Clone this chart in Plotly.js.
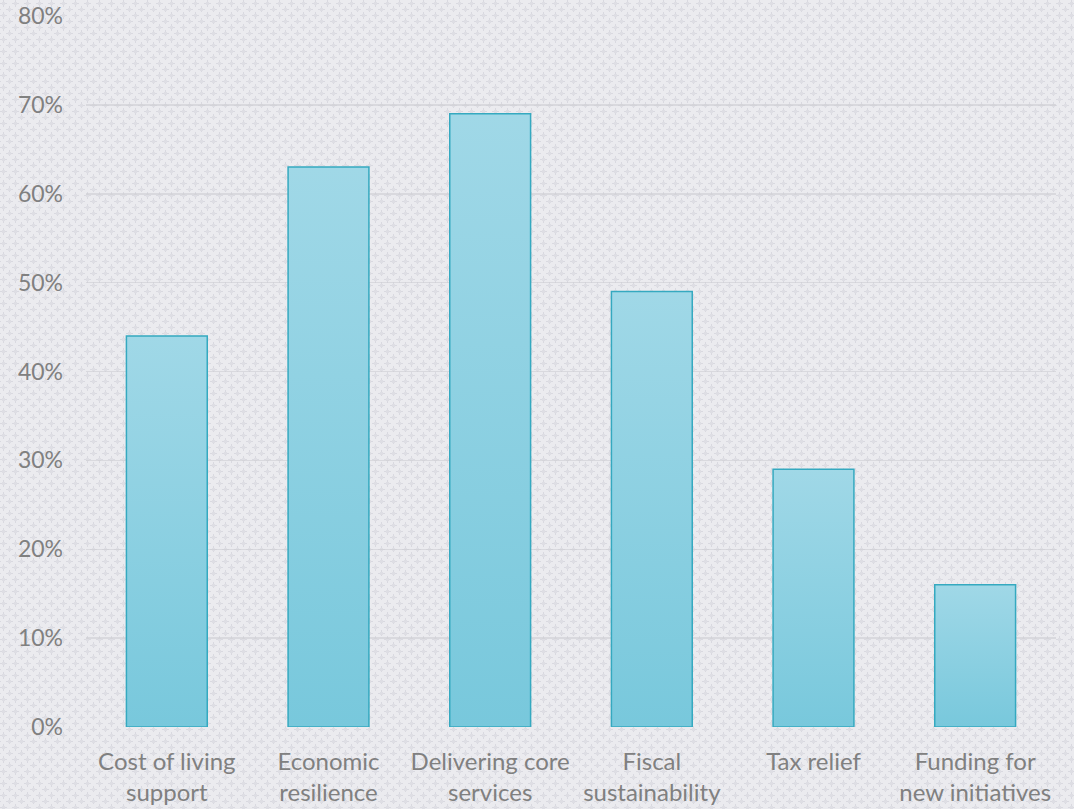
<!DOCTYPE html>
<html><head><meta charset="utf-8">
<script src="https://cdn.plot.ly/plotly-3.0.1.min.js"></script>
<style>
html,body{margin:0;padding:0;width:1074px;height:809px;overflow:hidden;}
body{
 background-color:#ebebef;
 background-image:url("data:image/svg+xml;utf8,<svg xmlns='http://www.w3.org/2000/svg' width='12' height='12'><g fill='%23d9d9e0'><rect x='3' y='0' width='1' height='7'/><rect x='0' y='3' width='7' height='1'/><rect x='9' y='6' width='1' height='7'/><rect x='9' y='-1' width='1' height='1'/><rect x='6' y='9' width='7' height='1'/><rect x='0' y='9' width='1' height='1'/></g><g fill='%23dedee4'><rect x='2' y='2' width='3' height='3'/><rect x='8' y='8' width='3' height='3'/></g></svg>");
}
#chart{width:1074px;height:809px;}
</style></head>
<body><div id="chart"></div>
<script>
const categories = ["Cost of living<br>support","Economic<br>resilience","Delivering core<br>services","Fiscal<br>sustainability","Tax relief","Funding for<br>new initiatives"];
const values = [0.44, 0.63, 0.69, 0.49, 0.29, 0.16];
const yTickVals = [0,0.1,0.2,0.3,0.4,0.5,0.6,0.7,0.8];
const yTickText = ["0%","10%","20%","30%","40%","50%","60%","70%","80%"];

const trace = {
  type:'bar', x:categories, y:values,
  marker:{color:'#8fd0e1', line:{color:'#35a9c0', width:1.5}},
  width:0.5, hoverinfo:'none'
};
const layout = {
  width:1074, height:809,
  margin:{l:86, r:18, t:16, b:82},
  paper_bgcolor:'rgba(0,0,0,0)', plot_bgcolor:'rgba(0,0,0,0)',
  font:{family:'Lato, "Open Sans", sans-serif', size:23, color:'#808080'},
  showlegend:false,
  bargap:0.5,
  xaxis:{showgrid:false, zeroline:false, showline:false, ticks:'', tickfont:{size:24,color:'#808080'}, ticklabelstandoff:18},
  yaxis:{range:[0,0.8], tickvals:yTickVals, ticktext:yTickText, showgrid:true, gridcolor:'rgba(205,205,210,0.6)', gridwidth:1.5, zeroline:false, showline:false, ticks:'', tickfont:{size:23,color:'#808080'}, ticklabelstandoff:22}
};
Plotly.newPlot('chart',[trace],layout,{staticPlot:true}).then(function(gd){
  const svg = gd.querySelector('svg.main-svg');
  const ns='http://www.w3.org/2000/svg';
  let defs = svg.querySelector('defs');
  if(!defs){defs=document.createElementNS(ns,'defs');svg.insertBefore(defs,svg.firstChild);}
  const g=document.createElementNS(ns,'linearGradient');
  g.setAttribute('id','barGrad');g.setAttribute('x1','0');g.setAttribute('y1','0');g.setAttribute('x2','0');g.setAttribute('y2','1');
  [['0','#a0d8e7'],['1','#78c8dc']].forEach(function(s){const st=document.createElementNS(ns,'stop');st.setAttribute('offset',s[0]);st.setAttribute('stop-color',s[1]);g.appendChild(st);});
  defs.appendChild(g);
  gd.querySelectorAll('.bars .point path').forEach(function(p){p.style.fill='url(#barGrad)';p.style.fillOpacity='1';});
});
</script></body></html>
